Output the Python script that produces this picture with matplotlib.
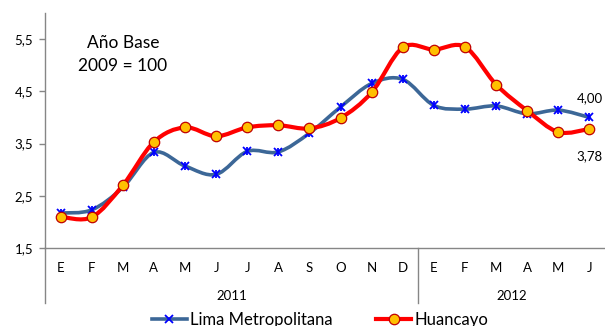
import matplotlib
matplotlib.use("Agg")
import matplotlib.pyplot as plt
from matplotlib.path import Path
from matplotlib.patches import PathPatch
from matplotlib.lines import Line2D
import matplotlib.transforms as mtransforms
import numpy as np

plt.rcParams['font.family'] = ['Lato', 'DejaVu Sans']

months = ["E", "F", "M", "A", "M", "J", "J", "A", "S", "O", "N", "D",
          "E", "F", "M", "A", "M", "J"]
years = ["2011", "2012"]
year_counts = [12, 6]
lima = [2.17, 2.23, 2.66, 3.33, 3.07, 2.91, 3.35, 3.34, 3.70, 4.20, 4.65, 4.73,
        4.23, 4.16, 4.22, 4.07, 4.14, 4.00]
huancayo = [2.10, 2.09, 2.70, 3.53, 3.81, 3.64, 3.81, 3.85, 3.79, 3.99, 4.48, 5.34,
            5.30, 5.35, 4.63, 4.13, 3.72, 3.78]
yticks = [1.5, 2.5, 3.5, 4.5, 5.5]
ytick_labels = ["1,5", "2,5", "3,5", "4,5", "5,5"]
last_labels = ["4,00", "3,78"]

W, H = 605, 326
fig = plt.figure(figsize=(W / 100, H / 100), dpi=100)
ax = fig.add_axes([45 / W, (H - 248) / H, 560 / W, 235 / H])

x = np.arange(len(months))


def smooth_path(xs, ys, t=1 / 6):
    pts = np.column_stack([xs, ys]).astype(float)
    n = len(pts)
    verts = [pts[0]]
    codes = [Path.MOVETO]
    for i in range(n - 1):
        p0 = pts[max(i - 1, 0)]
        p1 = pts[i]
        p2 = pts[i + 1]
        p3 = pts[min(i + 2, n - 1)]
        c1 = p1 + (p2 - p0) * t
        c2 = p2 - (p3 - p1) * t
        verts += [c1, c2, p2]
        codes += [Path.CURVE4] * 3
    return Path(verts, codes)


blue_line = "#3C6797"
red_line = "#FF0000"

ax.add_patch(PathPatch(smooth_path(x, lima), fill=False, edgecolor=blue_line,
                       lw=2.6, capstyle='round', joinstyle='round', zorder=3))
ax.plot(x, lima, ls='none', marker='x', ms=5.5, mew=1.3, color='#0000FF', zorder=4)
ax.plot(x, lima, ls='none', marker='|', ms=6, mew=1.3, color='#0000FF', zorder=4)

ax.add_patch(PathPatch(smooth_path(x, huancayo), fill=False, edgecolor=red_line,
                       lw=3.0, capstyle='round', joinstyle='round', zorder=5))
ax.plot(x, huancayo, ls='none', marker='o', ms=7.5, mew=0.9,
        markerfacecolor='#FFC000', markeredgecolor='#C00000', zorder=6)

ax.set_xlim(-0.5, len(months) - 0.5)
ax.set_ylim(1.5, 6.0)
ax.set_yticks(yticks)
ax.set_yticklabels(ytick_labels, fontsize=9.5)
ax.set_xticks(x)
ax.set_xticklabels(months, fontsize=9.5)
ax.tick_params(axis='x', length=0, pad=10)
ax.tick_params(axis='y', length=4.5, width=1, color='#868686', pad=4)

for s in ['top', 'right']:
    ax.spines[s].set_visible(False)
for s in ['left', 'bottom']:
    ax.spines[s].set_color('#868686')
    ax.spines[s].set_linewidth(1.0)

trans = mtransforms.blended_transform_factory(ax.transData, ax.transAxes)
drop = -55 / 235
start = 0
for yr, cnt in zip(years, year_counts):
    ax.text(start + cnt / 2 - 0.5, -48 / 235, yr, transform=trans,
            ha='center', va='center', fontsize=9.5)
    start += cnt
for b in [-0.5, 11.5]:
    ax.plot([b, b], [0, drop], transform=trans, color='#868686', lw=1.0,
            clip_on=False)

ax.text(2.0, 5.21, "Año Base\n2009 = 100", ha='center', va='center',
        fontsize=12.5, linespacing=1.5)

ax.text(x[-1], lima[-1] + 0.37, last_labels[0], ha='center', va='center',
        fontsize=9.5)
ax.text(x[-1], huancayo[-1] - 0.52, last_labels[1], ha='center', va='center',
        fontsize=9.5)

handles = [
    Line2D([], [], color=blue_line, lw=2.6, marker='x', ms=5.5, mew=1.3,
           markeredgecolor='#0000FF'),
    Line2D([], [], color=red_line, lw=3.0, marker='o', ms=7.5, mew=0.9,
           markerfacecolor='#FFC000', markeredgecolor='#C00000'),
]
fig.legend(handles, ["Lima Metropolitana", "Huancayo"], loc='center',
           bbox_to_anchor=(320 / W, 1 - 320 / H), ncol=2, frameon=False,
           fontsize=12, handlelength=2.1, handletextpad=0.2, columnspacing=2.6,
           borderpad=0)

fig.savefig("out.png", dpi=100)
